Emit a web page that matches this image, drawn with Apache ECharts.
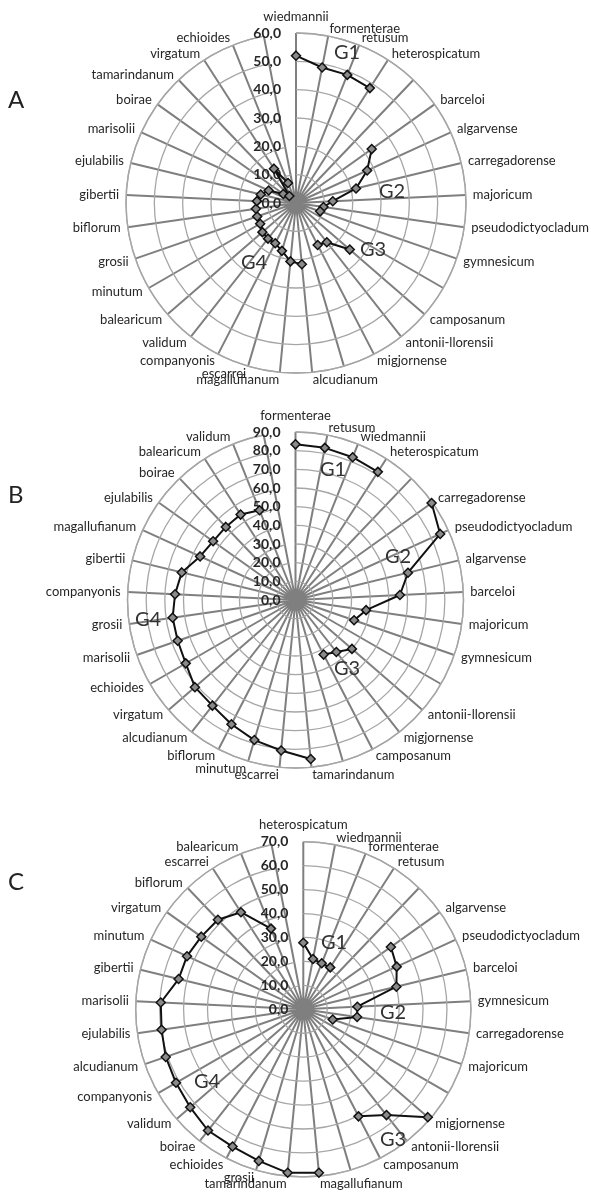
<!DOCTYPE html>
<html>
<head>
<meta charset="utf-8">
<script src="https://cdn.jsdelivr.net/npm/echarts@6/dist/echarts.min.js"></script>
<style>
html,body{margin:0;padding:0;background:#fff;}
#chart{width:591px;height:1196px;}
</style>
</head>
<body>
<div id="chart"></div>
<script>
// ---- Panel A ----
var catsA = ['wiedmannii','formenterae','retusum','heterospicatum','',
  'barceloi','algarvense','carregadorense','majoricum','pseudodictyocladum','gymnesicum','',
  'camposanum','antonii-llorensii','migjornense','',
  'alcudianum','magallufianum','escarrei','companyonis','validum','balearicum','minutum','grosii',
  'biflorum','gibertii','ejulabilis','marisolii','boirae','tamarindanum','virgatum','echioides',''];
var valsA = [52.0,48.7,48.7,48.2,null,
  32.8,27.6,21.8,13.0,9.8,9.0,null,
  25.1,17.6,16.7,null,
  21.7,20.7,17.6,16.0,16.0,15.7,14.6,14.5,14.3,13.8,12.8,10.6,5.5,3.4,14.4,7.6,null];

// ---- Panel B ----
var catsB = ['formenterae','retusum','wiedmannii','heterospicatum','',
  'carregadorense','pseudodictyocladum','algarvense','barceloi','majoricum','gymnesicum','',
  'antonii-llorensii','migjornense','camposanum','',
  'tamarindanum','escarrei','minutum','biflorum','alcudianum','virgatum','echioides','marisolii',
  'grosii','companyonis','gibertii','magallufianum','ejulabilis','boirae','balearicum','validum',''];
var valsB = [83.4,83.0,82.4,81.6,null,
  89.5,85.2,62.0,56.0,38.2,33.2,null,
  40.0,35.4,32.9,null,
  85.6,81.0,78.2,74.9,72.0,71.3,67.9,66.8,66.5,64.6,62.7,56.2,54.2,54.1,54.4,51.8,null];

// ---- Panel C ----
var catsC = ['heterospicatum','wiedmannii','formenterae','retusum','',
  'algarvense','pseudodictyocladum','barceloi','gymnesicum','carregadorense','majoricum','',
  'migjornense','antonii-llorensii','camposanum','',
  'magallufianum','tamarindanum','grosii','echioides','boirae','validum','companyonis','alcudianum',
  'ejulabilis','marisolii','gibertii','minutum','virgatum','biflorum','escarrei','balearicum',''];
var valsC = [27.8,21.4,20.7,20.8,null,
  44.9,42.9,40.0,22.6,22.7,13.0,null,
  68.8,56.2,50.3,null,
  68.6,68.6,66.0,64.5,64.4,62.5,61.4,60.8,59.8,59.6,53.6,53.4,52.3,51.7,48.2,36.3,null];

// axis maxima (ticks every 10)
var maxA = 60, maxB = 90, maxC = 70;
var tickStep = 10;

var panels = [
  {cats: catsA, vals: valsA, max: maxA, center: [296, 203], radius: 170},
  {cats: catsB, vals: valsB, max: maxB, center: [295.5, 600], radius: 168},
  {cats: catsC, vals: valsC, max: maxC, center: [303.3, 1009.3], radius: 167.6}
];

var FONT = 'Lato, "Open Sans", sans-serif';
var LABEL_SIZE = 13;
var LABEL_MARGIN = 7;
var measureCtx = document.createElement('canvas').getContext('2d');
measureCtx.font = LABEL_SIZE + 'px Lato';

// Excel-like placement of the category names: side-aligned, vertically centred
function angleData(cats, r) {
  var n = cats.length;
  return cats.map(function (name, k) {
    var th = (90 - k * 360 / n) * Math.PI / 180;
    var c = Math.cos(th) * (r + LABEL_MARGIN) / r;
    var style = {};
    if (k === 0) {
      style.padding = [0, 0, 9, 0];
    } else if (Math.abs(c) < 0.3 && name) {
      var w = measureCtx.measureText(name).width;
      style.padding = c > 0 ? [0, 0, 0, w] : [0, w, 0, 0];
    }
    return {value: name, textStyle: style};
  });
}

var polar = [], angleAxis = [], radiusAxis = [], series = [];
panels.forEach(function (p, i) {
  polar.push({center: p.center, radius: p.radius});
  angleAxis.push({
    polarIndex: i, type: 'category', data: angleData(p.cats, p.radius), startAngle: 90, clockwise: true,
    boundaryGap: false,
    axisLine: {show: true, lineStyle: {color: '#a6a6a6', width: 1.4}},
    axisTick: {show: false},
    axisLabel: {show: true, interval: 0, margin: LABEL_MARGIN, lineHeight: 1, color: '#262626',
      fontSize: LABEL_SIZE, fontFamily: FONT},
    splitLine: {show: true, lineStyle: {color: '#7f7f7f', width: 2}},
    z: 1
  });
  radiusAxis.push({
    polarIndex: i, type: 'value', min: 0, max: p.max, interval: tickStep,
    axisLine: {show: false}, axisTick: {show: false},
    axisLabel: {show: true, margin: 15, color: '#262626', fontSize: 14, fontWeight: 'bold', fontFamily: FONT,
      formatter: function (v) { return v.toFixed(1).replace('.', ','); }},
    splitLine: {show: true, lineStyle: {color: '#a6a6a6', width: 1.3}},
    z: 3
  });
  series.push({
    type: 'line', coordinateSystem: 'polar', polarIndex: i,
    data: p.vals.map(function (v, k) { return [v === null ? '-' : v, k]; }),
    symbol: 'diamond', symbolSize: 9, showAllSymbol: true, connectNulls: false,
    lineStyle: {color: '#111', width: 2},
    itemStyle: {color: '#8a8a8a', borderColor: '#111', borderWidth: 1.5},
    z: 5
  });
});

var graphics = [
  {type: 'text', x: 8, y: 88, style: {text: 'A', fill: '#222', fontSize: 24, fontFamily: FONT}},
  {type: 'text', x: 8, y: 483, style: {text: 'B', fill: '#222', fontSize: 24, fontFamily: FONT}},
  {type: 'text', x: 8, y: 870, style: {text: 'C', fill: '#222', fontSize: 24, fontFamily: FONT}}
];
var gl = [
  ['G1', 347, 53], ['G2', 392, 192], ['G3', 373, 250], ['G4', 254, 263],
  ['G1', 333, 470], ['G2', 398, 557], ['G3', 347, 669], ['G4', 148, 620],
  ['G1', 334, 943], ['G2', 393, 1013], ['G3', 393, 1140], ['G4', 207, 1082]
];
gl.forEach(function (g) {
  graphics.push({type: 'text', x: g[1], y: g[2], z: 10,
    style: {text: g[0], fill: '#333', fontSize: 20, fontFamily: FONT, align: 'center', verticalAlign: 'middle'}});
});

var chart = echarts.init(document.getElementById('chart'), null, {renderer: 'canvas'});
chart.setOption({
  animation: false,
  backgroundColor: '#fff',
  textStyle: {fontFamily: FONT},
  polar: polar,
  angleAxis: angleAxis,
  radiusAxis: radiusAxis,
  series: series,
  graphic: graphics
});
</script>
</body>
</html>
